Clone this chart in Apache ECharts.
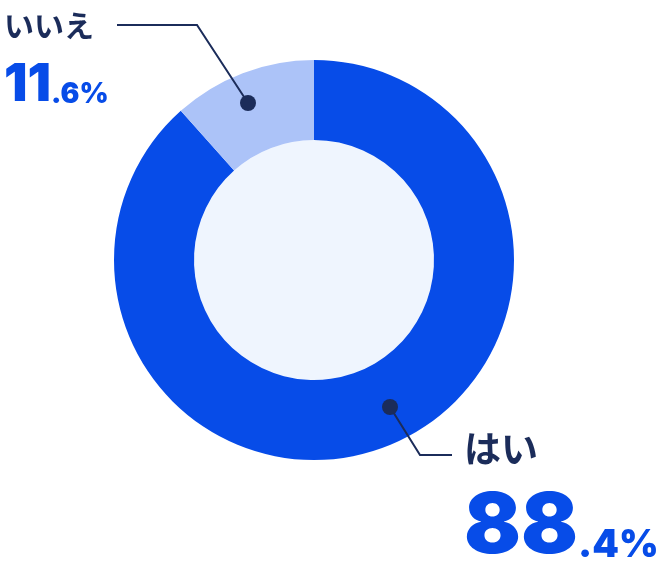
<!DOCTYPE html>
<html><head><meta charset="utf-8">
<script src="https://cdn.jsdelivr.net/npm/echarts@6/dist/echarts.min.js"></script>
<style>html,body{margin:0;padding:0;background:#fff}#c{width:658px;height:582px}</style>
</head><body><div id="c"></div>
<script>
const categories = ['はい', 'いいえ'];
const values = [88.4, 11.6];
const colors = ['#074ce8', '#acc3f8'];

const NAVY = '#1b2c5a';
const BLUE = '#074ce8';
const CX = 314, CY = 260;

// annotation placement (layout only)
const labelPos = [
  { x: 464, y: 424, line: [[390, 407], [420, 455], [452, 455]] },
  { x: 4, y: 4, line: [[248, 103], [197, 25], [117, 25]] }
];

function fmt(i) {
  const s = values[i].toFixed(1);
  const parts = s.split('.');
  const k = i === 0 ? 'a' : 'b';
  return '{n' + k + '|' + categories[i] + '}\n{g' + k + '|' + parts[0] + '}{s' + k + '|.' + parts[1] + '%}';
}

const NUMFONT = 'Inter';
const chart = echarts.init(document.getElementById('c'), null, { renderer: 'canvas' });
chart.setOption({
  animation: false,
  series: [
    {
      type: 'pie', silent: true, z: 1,
      center: [CX, CY], radius: [0, 120],
      label: { show: false }, labelLine: { show: false },
      itemStyle: { color: '#eff5fe' },
      data: [{ value: 1 }]
    },
    {
      type: 'pie', silent: true, z: 2,
      center: [CX, CY], radius: [120, 200],
      startAngle: 90, clockwise: true,
      avoidLabelOverlap: false,
      data: categories.map((c, i) => ({ name: c, value: values[i], itemStyle: { color: colors[i] } })),
      label: {
        show: true, position: 'outside',
        formatter: p => fmt(p.dataIndex),
        rich: {
          na: { fontFamily: 'Noto Sans CJK JP', fontWeight: 'bold', fontSize: 37, color: NAVY, lineHeight: 50 },
          ga: { fontFamily: NUMFONT, fontWeight: 900, fontSize: 84, color: BLUE, lineHeight: 107 },
          sa: { fontFamily: NUMFONT, fontWeight: 900, fontSize: 38, color: BLUE, verticalAlign: 'bottom', padding: [0, 0, 16, 0] },
          nb: { fontFamily: 'Noto Sans CJK JP', fontWeight: 'bold', fontSize: 30, color: NAVY, lineHeight: 44 },
          gb: { fontFamily: NUMFONT, fontWeight: 900, fontSize: 52, color: BLUE, lineHeight: 74 },
          sb: { fontFamily: NUMFONT, fontWeight: 900, fontSize: 28, color: BLUE, verticalAlign: 'bottom', padding: [0, 0, 13, 0] }
        }
      },
      labelLine: { show: false },
      labelLayout: function (params) {
        const lp = labelPos[params.dataIndex];
        return { x: lp.x, y: lp.y, align: 'left', verticalAlign: 'top' };
      }
    }
  ],
  graphic: labelPos.map(lp => ({
    type: 'polyline', z: 100,
    shape: { points: lp.line },
    style: { stroke: NAVY, lineWidth: 2, fill: null }
  })).concat(labelPos.map(lp => ({
    type: 'circle', z: 101,
    shape: { cx: lp.line[0][0], cy: lp.line[0][1], r: 8 },
    style: { fill: NAVY }
  })))
});
</script></body></html>
